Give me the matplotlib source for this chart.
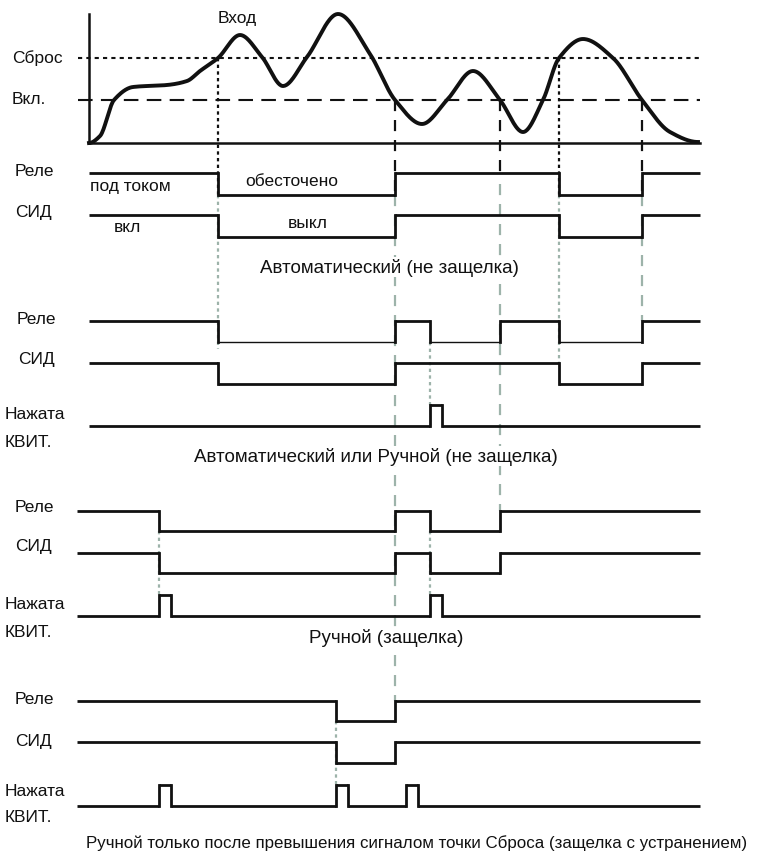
import numpy as np
import matplotlib.pyplot as plt

plt.rcParams['font.family'] = ['Liberation Sans', 'DejaVu Sans']

# Input signal (time, level above baseline)
in_time = [89, 100, 114, 133, 167, 187, 200, 218, 240, 262, 283, 307, 338, 370,
           395, 422, 447, 473, 500, 523, 543, 559, 583, 613, 642, 670, 698]
in_level = [0, 7, 43, 56, 58, 62, 72, 85, 108, 86, 57, 86, 129, 89,
            43, 19, 43, 72, 43, 11, 43, 85, 104, 85, 43, 11, 1]
reset_level = 85
on_level = 43

# Events
t_reset_up = [218, 559]
t_on_down = [395, 500, 642]
t_end = 700

# Section 1: automatic states
s1_relay = [218, 395, 559, 642]
s1_led = [218, 395, 559, 642]
# Section 2: automatic (non-latching)
s2_relay = [218, 395, 430, 500, 559, 642]
s2_led = [218, 395, 559, 642]
s2_ack = [430]
# Section 3: automatic or manual (non-latching)
s3_relay = [159, 395, 430, 500]
s3_led = [159, 395, 430, 500]
s3_ack = [159, 430]
# Section 4: manual after reset (latching with clearance)
s4_relay = [336, 395]
s4_led = [336, 395]
s4_ack = [159, 336, 406]
ack_width = 12

BLACK = '#111111'
GRAY = '#9db3aa'


def pchip(x, y, xs):
    x = np.asarray(x, float)
    y = np.asarray(y, float)
    h = np.diff(x)
    d = np.diff(y) / h
    m = np.zeros_like(y)
    for k in range(1, len(x) - 1):
        if d[k - 1] * d[k] > 0:
            w1 = 2 * h[k] + h[k - 1]
            w2 = h[k] + 2 * h[k - 1]
            m[k] = (w1 + w2) / (w1 / d[k - 1] + w2 / d[k])
    idx = np.clip(np.searchsorted(x, xs) - 1, 0, len(x) - 2)
    s = (xs - x[idx]) / h[idx]
    h00 = 2 * s**3 - 3 * s**2 + 1
    h10 = s**3 - 2 * s**2 + s
    h01 = -2 * s**3 + 3 * s**2
    h11 = s**3 - s**2
    return h00 * y[idx] + h10 * h[idx] * m[idx] + h01 * y[idx + 1] + h11 * h[idx] * m[idx + 1]


def draw_signal(ax, edges, y_hi, y_lo, x0, start_high=True, lw=2.0, lw_low=None):
    xs = [x0] + list(edges) + [t_end]
    state = start_high
    for a, b in zip(xs[:-1], xs[1:]):
        y = y_hi if state else y_lo
        w = lw if (state or lw_low is None) else lw_low
        ax.plot([a, b], [y, y], color=BLACK, lw=w, solid_capstyle='butt', zorder=3)
        state = not state
    for e in edges:
        ax.plot([e, e], [y_hi, y_lo], color=BLACK, lw=lw, zorder=3)


def draw_ack(ax, presses, y_base, y_top, x0):
    edges = []
    for p in presses:
        edges += [p, p + ack_width]
    draw_signal(ax, edges, y_top, y_base, x0, start_high=False)


def vguide(ax, x, y0, y1, style, color):
    if style == 'dot':
        ls = (0, (1.5, 1.5))
    else:
        ls = (0, (5, 4))
    ax.plot([x, x], [y0, y1], color=color, lw=1.6, ls=ls, zorder=1)


fig = plt.figure(figsize=(7.57, 8.54), dpi=100)
ax = fig.add_axes([0, 0, 1, 1])
ax.set_xlim(0, 757)
ax.set_ylim(854, 0)
ax.axis('off')

# --- input plot ---
base = 144
ax.plot([89, 89], [15, base], color=BLACK, lw=1.8)
ax.plot([89, t_end], [base, base], color=BLACK, lw=1.8)
ax.plot([78, t_end], [base - reset_level] * 2, color=BLACK, lw=1.5, ls=(0, (2, 2)))
ax.plot([78, t_end], [base - on_level] * 2, color=BLACK, lw=1.5, ls=(0, (7, 4)))
xs = np.linspace(in_time[0], in_time[-1], 800)
ax.plot(xs, base - pchip(in_time, in_level, xs), color=BLACK, lw=2.8, zorder=4)

lab = dict(fontsize=12.5, va='center', ha='left', color=BLACK)
ax.text(218, 18, 'Вход', **lab)
ax.text(12, 58, 'Сброс', **lab)
ax.text(12, 100, 'Вкл.', **lab)

# --- guides ---
for x in t_reset_up:
    vguide(ax, x, base - reset_level, 196, 'dot', BLACK)
vguide(ax, 218, 196, 350, 'dot', GRAY)
vguide(ax, 559, 196, 364, 'dot', GRAY)
vguide(ax, 395, base - on_level, 196, 'dash', BLACK)
vguide(ax, 500, base - on_level, 180, 'dash', BLACK)
vguide(ax, 642, base - on_level, 196, 'dash', BLACK)
vguide(ax, 395, 196, 702, 'dash', GRAY)
vguide(ax, 500, 185, 512, 'dash', GRAY)
vguide(ax, 642, 196, 322, 'dash', GRAY)
vguide(ax, 430, 343, 406, 'dot', GRAY)
vguide(ax, 159, 532, 596, 'dot', GRAY)
vguide(ax, 430, 532, 596, 'dot', GRAY)
vguide(ax, 336, 722, 786, 'dot', GRAY)

# --- section 1 ---
draw_signal(ax, s1_relay, 174, 196, 89)
draw_signal(ax, s1_led, 216, 238, 89)
ax.text(15, 172, 'Реле', **lab)
ax.text(15, 212, 'СИД', **lab)
ax.text(90, 187, 'под током', **lab)
ax.text(245, 182, 'обесточено', **lab)
ax.text(114, 228, 'вкл', **lab)
ax.text(288, 223, 'выкл', **lab)

title = dict(fontsize=13.5, va='center', ha='center', color=BLACK, zorder=5,
             bbox=dict(facecolor='white', edgecolor='none', pad=1))

# --- section 2 ---
ax.text(389, 268, 'Автоматический (не защелка)', **title)
draw_signal(ax, s2_relay, 322, 343, 89, lw_low=1.0)
draw_signal(ax, s2_led, 364, 385, 89)
draw_ack(ax, s2_ack, 427, 406, 89)
ax.text(17, 320, 'Реле', **lab)
ax.text(18, 360, 'СИД', **lab)
ax.text(5, 415, 'Нажата', **lab)
ax.text(5, 443, 'КВИТ.', **lab)

# --- section 3 ---
ax.text(376, 457, 'Автоматический или Ручной (не защелка)', **title)
draw_signal(ax, s3_relay, 512, 532, 77)
draw_signal(ax, s3_led, 554, 574, 77)
draw_ack(ax, s3_ack, 617, 596, 77)
ax.text(15, 508, 'Реле', **lab)
ax.text(15, 547, 'СИД', **lab)
ax.text(5, 605, 'Нажата', **lab)
ax.text(5, 633, 'КВИТ.', **lab)

# --- section 4 ---
ax.text(386, 638, 'Ручной (защелка)', **title)
draw_signal(ax, s4_relay, 702, 722, 77)
draw_signal(ax, s4_led, 743, 764, 77)
draw_ack(ax, s4_ack, 807, 786, 77)
ax.text(15, 700, 'Реле', **lab)
ax.text(15, 742, 'СИД', **lab)
ax.text(5, 792, 'Нажата', **lab)
ax.text(5, 818, 'КВИТ.', **lab)

caption = dict(title, fontsize=12.2)
ax.text(417, 843, 'Ручной только после превышения сигналом точки Сброса (защелка с устранением)',
        **caption)

fig.savefig('out.png', dpi=100)
